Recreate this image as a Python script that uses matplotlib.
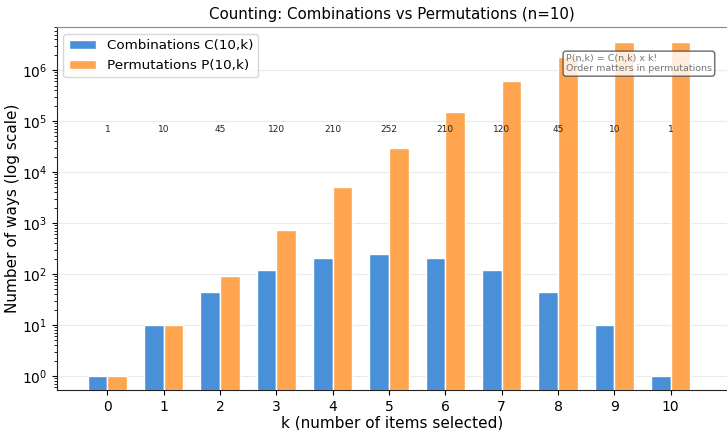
import numpy as np
import matplotlib.pyplot as plt

# C(10,k) and P(10,k) for k = 0..10
k = [0, 1, 2, 3, 4, 5, 6, 7, 8, 9, 10]
combinations = [1, 10, 45, 120, 210, 252, 210, 120, 45, 10, 1]
permutations = [1, 10, 90, 720, 5040, 30240, 151200, 604800, 1814400, 3628800, 3628800]

fig = plt.figure(figsize=(7.27, 4.3), dpi=100)
ax = fig.add_axes([0.078, 0.093, 0.922, 0.844])

x = np.arange(len(k))
w = 0.35
ax.bar(x - w/2, combinations, w, color='#4a90d9', edgecolor='white', linewidth=1,
       label='Combinations C(10,k)', zorder=3)
ax.bar(x + w/2, permutations, w, color='#ffa54f', edgecolor='white', linewidth=1,
       label='Permutations P(10,k)', zorder=3)
ax.set_yscale('log')
ax.set_ylim(0.53, 7e6)
ax.set_xlim(-0.9, 11.0)

# combination counts written across the chart
for xi, c in zip(x, combinations):
    ax.text(xi, 7e4, str(c), ha='center', va='center', fontsize=6.5, color='#222222')

ax.set_xticks(x)
ax.set_xticklabels([str(v) for v in k])
ax.tick_params(labelsize=10)
ax.set_xlabel('k (number of items selected)', fontsize=11, labelpad=1)
ax.set_ylabel('Number of ways (log scale)', fontsize=11, labelpad=1)
ax.set_title('Counting: Combinations vs Permutations (n=10)', fontsize=10.8, pad=6)

ax.grid(axis='y', which='major', color='#dddddd', alpha=0.6, linewidth=0.8, zorder=0)
ax.spines['top'].set_color('#888888')
ax.spines['right'].set_visible(False)
ax.spines['left'].set_color('#222222')
ax.spines['bottom'].set_color('#222222')

ax.legend(loc='upper left', fontsize=9.7)
ax.text(0.9775, 0.926, 'P(n,k) = C(n,k) x k!\nOrder matters in permutations',
        transform=ax.transAxes, ha='right', va='top', multialignment='left',
        fontsize=6.8, color='#777777',
        bbox=dict(boxstyle='round,pad=0.3', facecolor='white', alpha=0.8, edgecolor='#444444'),
        zorder=5)

fig.savefig('out.png', dpi=100)
